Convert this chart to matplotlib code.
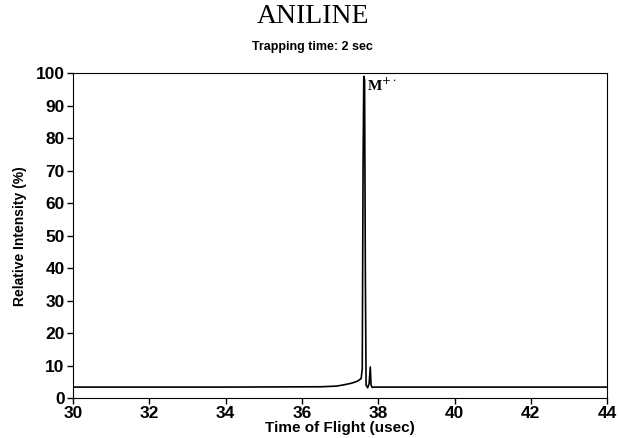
import matplotlib
matplotlib.use("Agg")
import matplotlib.pyplot as plt

# time of flight (usec) and relative intensity (%)
tof = [30.0, 34.0, 36.5, 36.9, 37.1, 37.3, 37.45, 37.55, 37.58, 37.60, 37.62,
       37.64, 37.66, 37.68, 37.72, 37.76, 37.79, 37.81, 37.84, 37.9, 40.0, 44.0]
intensity = [3.4, 3.4, 3.5, 3.7, 4.1, 4.6, 5.2, 6.0, 9.0, 70.0, 99.0,
             98.0, 40.0, 4.0, 3.2, 4.5, 9.6, 4.0, 3.3, 3.4, 3.4, 3.4]

xticks = [30, 32, 34, 36, 38, 40, 42, 44]
yticks = [0, 10, 20, 30, 40, 50, 60, 70, 80, 90, 100]

fig = plt.figure(figsize=(6.19, 4.38), dpi=100)
ax = fig.add_axes([0.118, 0.091, 0.863, 0.742])

ax.plot(tof, intensity, color="black", linewidth=1.2)
ax.set_xlim(30, 44)
ax.set_ylim(0, 100)
ax.set_xticks(xticks)
ax.set_yticks(yticks)
ax.tick_params(direction="out", length=4, width=1, pad=2)
for lab in ax.get_xticklabels() + ax.get_yticklabels():
    lab.set_fontfamily("Liberation Sans")
    lab.set_fontweight("bold")
    lab.set_fontsize(12.5)

ax.set_xlabel("Time of Flight (usec)", fontfamily="Liberation Sans",
              fontweight="bold", fontsize=11, labelpad=0)
ax.set_ylabel("Relative Intensity (%)", fontfamily="Liberation Sans",
              fontweight="bold", fontsize=10, labelpad=6)

ax.text(37.7, 99, r"M$^{+\cdot}$", fontfamily="Liberation Serif",
        fontweight="bold", fontsize=11, va="top", ha="left")

fig.text(0.505, 0.962, "ANILINE", fontfamily="Liberation Serif",
         fontsize=20, ha="center", va="center")
fig.text(0.505, 0.893, "Trapping time: 2 sec", fontfamily="Liberation Sans",
         fontweight="bold", fontsize=9, ha="center", va="center")

fig.savefig("out.png", dpi=100)
